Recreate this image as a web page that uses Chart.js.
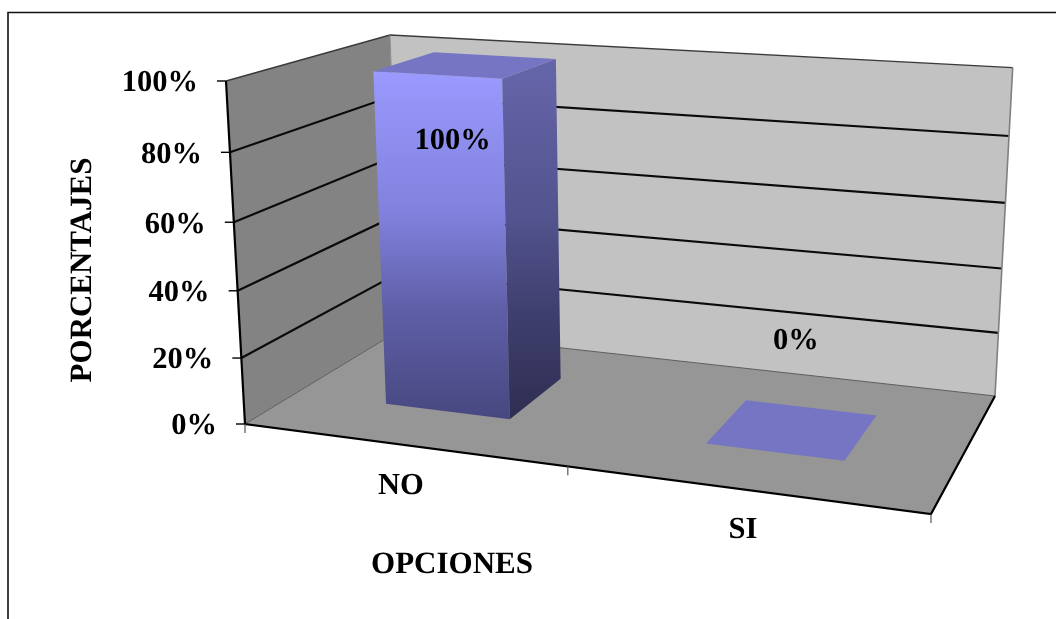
<!DOCTYPE html>
<html lang="es">
<head>
<meta charset="utf-8">
<title>Porcentajes por opciones</title>
<script src="https://cdn.jsdelivr.net/npm/chart.js@4"></script>
<style>
  html, body { margin: 0; padding: 0; background: #fff; overflow: hidden; }
  canvas { display: block; }
</style>
</head>
<body>
<canvas id="chart" width="1056" height="619"></canvas>
<script>
// Data
const categories = ['NO', 'SI'];
const porcentajes = [100, 0];
const yTickValues = [0, 20, 40, 60, 80, 100];
const xTitle = 'OPCIONES';
const yTitle = 'PORCENTAJES';

// Box corners on screen, order: front-left, front-right, back-right, back-left
const floorQuad = [[245, 424], [931, 514], [995, 396], [400, 330]];
const topQuad = [[226, 81], [948.6, 127], [1012.7, 67.7], [390, 35]];
const verticalPerspective = 1.05;
const barDepth = [0.3, 0.7];
const labelFont = 'bold 30.5px "Liberation Serif"';
const titleFont = 'bold 31px "Liberation Serif"';

// Nudge of each value label from the middle of its bar column
const valueLabelNudge = [{ v: 0.775, dx: -16 }, { v: 0.266, dx: 1 }];
const xLabelDrop = [42, 41];

function makeHomography(q) {
  const dx1 = q[1][0] - q[2][0], dx2 = q[3][0] - q[2][0], sx = q[0][0] - q[1][0] + q[2][0] - q[3][0];
  const dy1 = q[1][1] - q[2][1], dy2 = q[3][1] - q[2][1], sy = q[0][1] - q[1][1] + q[2][1] - q[3][1];
  const det = dx1 * dy2 - dx2 * dy1;
  const g = (sx * dy2 - dx2 * sy) / det;
  const h = (dx1 * sy - sx * dy1) / det;
  const a = q[1][0] - q[0][0] + g * q[1][0], b = q[3][0] - q[0][0] + h * q[3][0];
  const d = q[1][1] - q[0][1] + g * q[1][1], e = q[3][1] - q[0][1] + h * q[3][1];
  return (u, w) => {
    const z = g * u + h * w + 1;
    return [(a * u + b * w + q[0][0]) / z, (d * u + e * w + q[0][1]) / z];
  };
}

const floorMap = makeHomography(floorQuad);
const topMap = makeHomography(topQuad);

// u along the categories, v up the value axis, w from front to back (all 0..1)
function project(u, v, w) {
  const b = floorMap(u, w);
  const t = topMap(u, w);
  const k = v / (v + verticalPerspective * (1 - v));
  return [b[0] + (t[0] - b[0]) * k, b[1] + (t[1] - b[1]) * k];
}

function fillPoly(ctx, pts, fill) {
  ctx.beginPath();
  pts.forEach((p, i) => (i ? ctx.lineTo(p[0], p[1]) : ctx.moveTo(p[0], p[1])));
  ctx.closePath();
  ctx.fillStyle = fill;
  ctx.fill();
}

function strokeLine(ctx, pts, color, width) {
  ctx.beginPath();
  pts.forEach((p, i) => (i ? ctx.lineTo(p[0], p[1]) : ctx.moveTo(p[0], p[1])));
  ctx.strokeStyle = color;
  ctx.lineWidth = width;
  ctx.stroke();
}

function verticalGradient(ctx, y0, y1, stops) {
  const grad = ctx.createLinearGradient(0, y0, 0, y1);
  stops.forEach(s => grad.addColorStop(s[0], s[1]));
  return grad;
}

const box3d = {
  id: 'box3d',
  beforeDatasetsDraw(chart) {
    const ctx = chart.ctx;
    const area = chart.chartArea;
    const yScale = chart.scales.y;
    const toV = value => (area.bottom - yScale.getPixelForValue(value)) / (area.bottom - area.top);

    ctx.save();
    ctx.textRendering = 'geometricPrecision';
    // Outer frame, only left and top show inside the picture
    strokeLine(ctx, [[8, 619], [8, 12.5], [1056, 12.5]], '#111', 1.6);

    // Walls and floor
    fillPoly(ctx, [project(0, 0, 0), project(0, 1, 0), project(0, 1, 1), project(0, 0, 1)], '#838383');
    fillPoly(ctx, [project(0, 0, 1), project(0, 1, 1), project(1, 1, 1), project(1, 0, 1)], '#c2c2c2');
    fillPoly(ctx, [project(0, 0, 0), project(1, 0, 0), project(1, 0, 1), project(0, 0, 1)], '#969696');

    // Grid lines run over the left wall and the back wall
    yTickValues.filter(t => t > 0 && t < 100).forEach(t => {
      const v = toV(t);
      strokeLine(ctx, [project(0, v, 0), project(0, v, 1), project(1, v, 1)], '#0a0a0a', 2.1);
    });

    // Thin wall edges
    strokeLine(ctx, [project(0, 1, 0), project(0, 1, 1), project(1, 1, 1)], '#3a3a3a', 1.3);
    strokeLine(ctx, [project(1, 1, 1), project(1, 0, 1)], '#808080', 1.6);
    strokeLine(ctx, [project(0, 0, 0), project(0, 0, 1), project(1, 0, 1)], '#5c5c5c', 1);
    strokeLine(ctx, [project(0, 1, 1), project(0, 0, 1)], '#8a8a8a', 1);

    // Axis lines
    strokeLine(ctx, [project(0, 1, 0), project(0, 0, 0), project(1, 0, 0), project(1, 0, 1)], '#000', 2.2);

    // Value axis ticks and labels
    ctx.font = labelFont;
    ctx.textBaseline = 'middle';
    ctx.textAlign = 'right';
    yTickValues.forEach(t => {
      const p = project(0, toV(t), 0);
      strokeLine(ctx, [[p[0] - 9, p[1]], p], '#000', 1.4);
      ctx.fillStyle = '#000';
      ctx.fillText(t + '%', p[0] - 28, p[1] + 2.5);
    });

    // Category ticks at the front edge
    [0, 0.5, 1].forEach(u => {
      const p = project(u, 0, 0);
      strokeLine(ctx, [p, [p[0], p[1] + 9]], '#555', 1.2);
    });
    ctx.restore();
  },
  afterDatasetsDraw(chart) {
    const ctx = chart.ctx;
    const area = chart.chartArea;
    const w = area.right - area.left;
    const h = area.bottom - area.top;
    const meta = chart.getDatasetMeta(0);

    ctx.save();
    ctx.textRendering = 'geometricPrecision';
    meta.data.forEach(bar => {
      const u0 = (bar.x - bar.width / 2 - area.left) / w;
      const u1 = (bar.x + bar.width / 2 - area.left) / w;
      const v = (area.bottom - bar.y) / h;
      const [w0, w1] = barDepth;

      if (v > 0) {
        const y0 = project(u0, v, w0)[1];
        const y1 = project(u1, 0, w0)[1];
        fillPoly(ctx, [project(u0, 0, w0), project(u1, 0, w0), project(u1, v, w0), project(u0, v, w0)],
          verticalGradient(ctx, y0, y1, [[0, '#9a9aff'], [0.42, '#8080dc'], [0.68, '#5f5fa8'], [1, '#474780']]));
        fillPoly(ctx, [project(u1, 0, w0), project(u1, 0, w1), project(u1, v, w1), project(u1, v, w0)],
          verticalGradient(ctx, y0, y1, [[0, '#6464a8'], [0.42, '#53538f'], [0.68, '#404070'], [1, '#2e2e52']]));
      }
      fillPoly(ctx, [project(u0, v, w0), project(u1, v, w0), project(u1, v, w1), project(u0, v, w1)], '#7575c4');
    });

    // Value labels
    ctx.font = labelFont;
    ctx.fillStyle = '#000';
    ctx.textAlign = 'center';
    ctx.textBaseline = 'middle';
    meta.data.forEach((bar, i) => {
      const n = valueLabelNudge[i];
      const p = project((bar.x - area.left) / w, n.v, 0.5);
      ctx.fillText(porcentajes[i] + '%', p[0] + n.dx, p[1]);
    });

    // Category labels
    categories.forEach((c, i) => {
      const p = project((meta.data[i].x - area.left) / w, 0, 0);
      ctx.fillText(c, p[0] - 1, p[1] + xLabelDrop[i]);
    });

    // Axis titles
    ctx.font = titleFont;
    ctx.fillText(xTitle, 452, 565);
    ctx.translate(83, 270);
    ctx.rotate(-Math.PI / 2);
    ctx.fillText(yTitle, 0, 0);
    ctx.restore();
  }
};

new Chart(document.getElementById('chart'), {
  type: 'bar',
  data: {
    labels: categories,
    datasets: [{
      label: 'Porcentaje',
      data: porcentajes,
      backgroundColor: 'transparent',
      borderWidth: 0,
      categoryPercentage: 1,
      barPercentage: 0.4
    }]
  },
  options: {
    responsive: false,
    animation: false,
    layout: { padding: 0 },
    plugins: { legend: { display: false }, tooltip: { enabled: false } },
    scales: {
      x: { display: false },
      y: { display: false, min: 0, max: 100 }
    }
  },
  plugins: [box3d]
});
</script>
</body>
</html>
